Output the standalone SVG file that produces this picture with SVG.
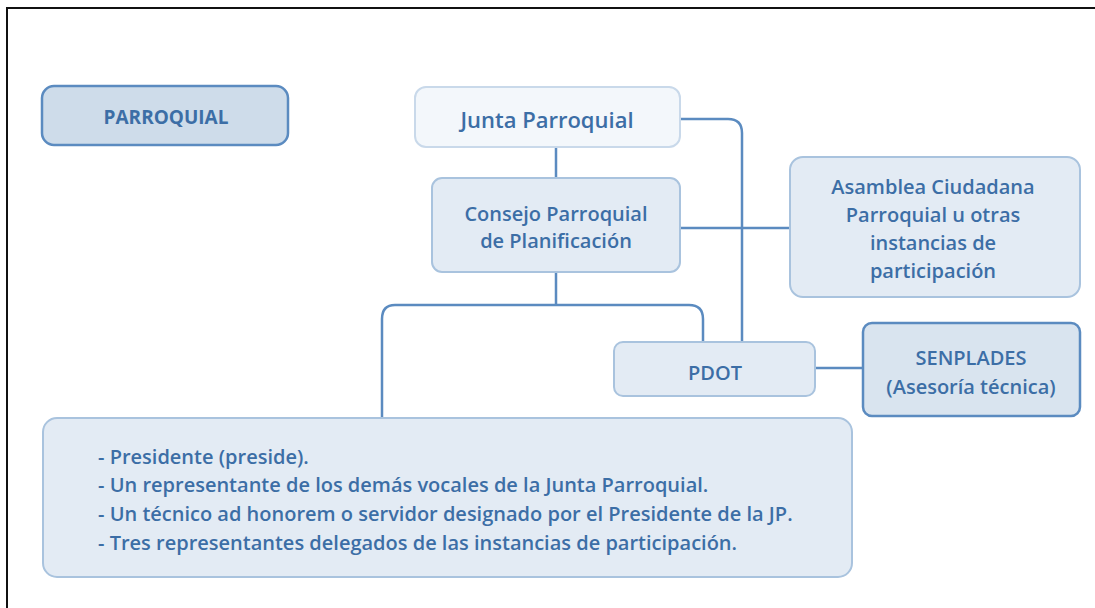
<svg xmlns="http://www.w3.org/2000/svg" width="1095" height="608" viewBox="0 0 1095 608">
<style>
.t{font-family:"Open Sans","Noto Sans",sans-serif;fill:#3c6ea6;text-anchor:middle;font-weight:600;font-size:20px}
.c{fill:none;stroke:#5b8bc0;stroke-width:2.5}
</style>
<rect width="1095" height="608" fill="#fff"/>
<path d="M7,608 V8 H1095" fill="none" stroke="#111" stroke-width="2"/>
<g id="connectors">
<path class="c" d="M556,147 V178"/>
<path class="c" d="M680,119 H728 Q742,119 742,133 V342"/>
<path class="c" d="M680,228 H790"/>
<path class="c" d="M556,272 V305 M395,305 H689 Q703,305 703,319 V342 M395,305 Q382,305 382,319 V418"/>
<path class="c" d="M815,368 H863"/>
</g>
<g id="parroquial">
<rect x="42" y="86" width="246" height="59" rx="12" fill="#cedcea" stroke="#5b8bc0" stroke-width="2.5"/>
<text class="t" x="166" y="124" style="font-size:19px;font-weight:bold">PARROQUIAL</text>
</g>
<g id="junta">
<rect x="415" y="87" width="265" height="60" rx="11" fill="#f3f7fb" stroke="#c9d9ea" stroke-width="2"/>
<text class="t" x="547" y="128" style="font-size:22px">Junta Parroquial</text>
</g>
<g id="consejo">
<rect x="432" y="178" width="248" height="94" rx="10" fill="#e3ebf4" stroke="#a9c3de" stroke-width="2"/>
<text class="t" x="556" y="221">Consejo Parroquial</text>
<text class="t" x="556" y="248">de Planificación</text>
</g>
<g id="asamblea">
<rect x="790" y="157" width="290" height="140" rx="13" fill="#e3ebf4" stroke="#a9c3de" stroke-width="2"/>
<text class="t" x="933" y="194">Asamblea Ciudadana</text>
<text class="t" x="933" y="222">Parroquial u otras</text>
<text class="t" x="933" y="250">instancias de</text>
<text class="t" x="933" y="278">participación</text>
</g>
<g id="pdot">
<rect x="614" y="342" width="201" height="54" rx="9" fill="#e3ebf4" stroke="#a9c3de" stroke-width="2"/>
<text class="t" x="715" y="380">PDOT</text>
</g>
<g id="senplades">
<rect x="863" y="323" width="217" height="93" rx="9" fill="#d9e4ef" stroke="#5b8bc0" stroke-width="2.5"/>
<text class="t" x="971" y="365">SENPLADES</text>
<text class="t" x="971" y="394">(Asesoría técnica)</text>
</g>
<g id="miembros">
<rect x="43" y="418" width="809" height="159" rx="14" fill="#e3ebf4" stroke="#a9c3de" stroke-width="2"/>
<g class="t" style="text-anchor:start">
<text x="98" y="464">- Presidente (preside).</text>
<text x="98" y="492">- Un representante de los demás vocales de la Junta Parroquial.</text>
<text x="98" y="521">- Un técnico ad honorem o servidor designado por el Presidente de la JP.</text>
<text x="98" y="550">- Tres representantes delegados de las instancias de participación.</text>
</g>
</g>
</svg>
